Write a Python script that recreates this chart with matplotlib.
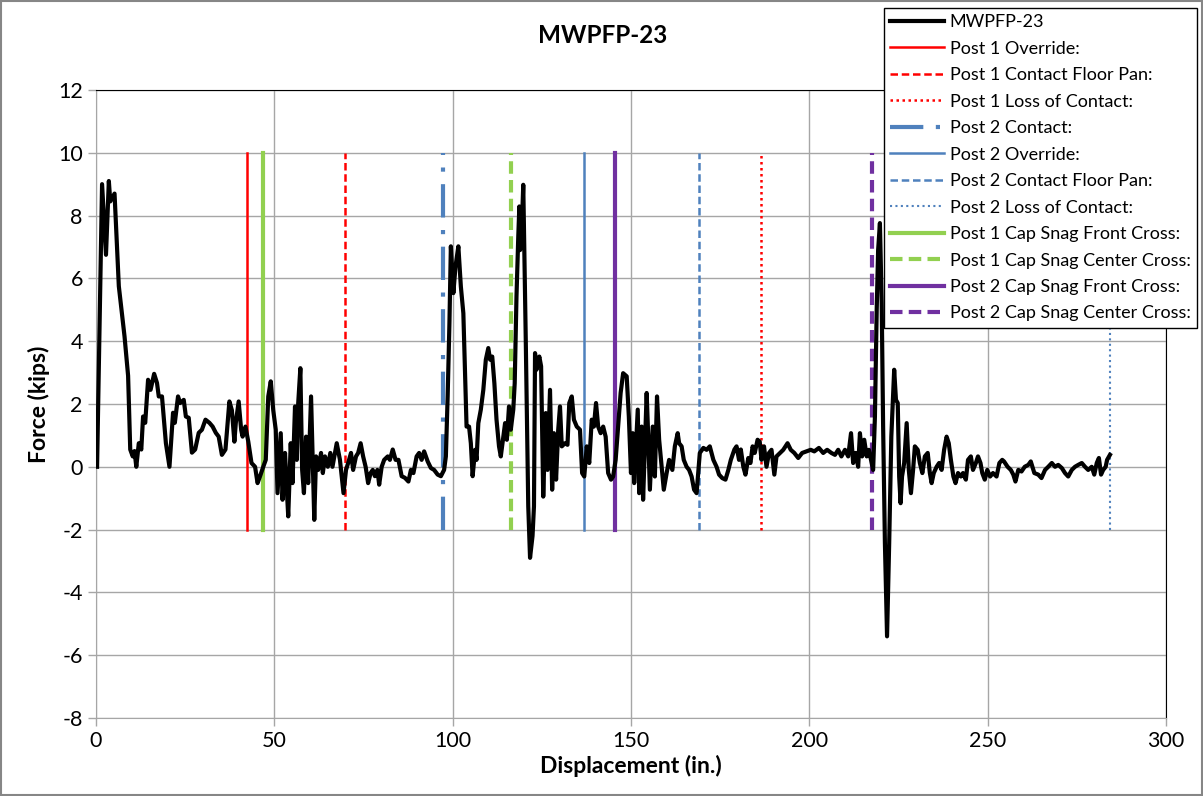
import matplotlib
matplotlib.use("Agg")
import matplotlib.pyplot as plt
from matplotlib.patches import Rectangle

plt.rcParams['font.family'] = ['Lato', 'DejaVu Sans']
plt.rcParams['axes.unicode_minus'] = False

# force vs displacement trace
disp = [0.3, 1.7, 2.8, 3.6, 4.0, 5.2, 6.4, 7.8, 8.0, 8.6, 9.0, 9.6, 10.3, 10.8, 11.3,
        12.0, 12.7, 13.2, 13.8, 14.6, 15.3, 16.3, 17.1, 17.6, 18.5, 19.6, 20.6, 21.6,
        22.1, 23.0, 23.6, 24.6, 25.2, 26.0, 26.9, 27.8, 28.8, 29.7, 30.7, 31.8, 32.7,
        33.6, 34.4, 35.3, 36.3, 37.4, 38.1, 38.8, 39.2, 40.0, 40.7, 41.1, 41.9,
        42.7, 43.6, 44.6, 45.3, 46.0, 46.9, 47.6, 48.3, 49.0, 49.7, 50.4, 50.9, 51.8,
        52.3, 53.0, 53.5, 53.9, 54.6, 55.1, 55.8, 56.3, 56.7, 57.3, 57.8, 58.3, 58.9,
        59.5, 60.3, 60.7, 61.2, 61.7, 62.3, 63.1, 63.6, 64.2, 65.0, 65.7, 66.3, 67.5,
        68.4, 69.4, 70.1, 70.7, 71.5, 72.1, 72.9, 73.5, 74.2, 74.9, 75.6, 76.3, 77.0,
        77.6, 78.2, 78.9, 79.4, 80.1, 80.8, 81.8, 82.4, 83.2, 84.0, 84.8, 85.7, 86.6,
        87.6, 88.3, 89.0, 89.9, 90.6, 91.3, 92.0, 93.0, 93.9, 94.8, 95.8, 96.7, 97.6,
        98.1, 98.6, 99.1, 99.5, 100.2, 100.8, 101.6, 102.3, 103.0, 103.4, 103.9, 104.6,
        105.1, 105.6, 106.3, 106.7, 107.2, 107.9, 108.6, 109.3, 110.0, 110.5, 111.1,
        111.7, 112.3, 113.0, 113.5, 114.2, 114.7, 115.2, 115.8, 116.3, 117.0, 117.4,
        117.9, 118.4, 118.7, 118.9, 119.3, 119.8, 120.5, 121.2, 121.7, 122.4, 122.8,
        123.1, 123.5, 124.3, 124.8, 125.4, 126.1, 126.6, 127.3, 127.9, 128.4, 129.0,
        129.6, 130.1, 130.6, 131.5, 132.2, 132.7, 133.4, 134.0, 134.8, 135.7, 136.3,
        136.9, 137.6, 138.3, 139.0, 139.6, 140.2, 140.8, 141.5, 142.2, 142.9, 143.6,
        144.4, 145.0, 145.7, 146.4, 147.1, 147.8, 148.8, 149.4, 150.0, 150.5, 150.9,
        151.4, 151.9, 152.3, 153.0, 153.4, 154.1, 154.4, 154.8, 155.3, 156.1, 156.7,
        157.3, 157.9, 158.6, 159.2, 160.0, 160.7, 161.6, 162.3, 163.1, 163.5, 164.2,
        164.8, 165.6, 166.3, 167.0, 167.7, 168.4, 169.3, 170.3, 171.2, 172.1, 173.1,
        174.0, 174.7, 175.6, 176.5, 177.3, 178.0, 179.0, 179.6, 180.3, 180.8, 181.5,
        182.1, 182.9, 183.5, 184.1, 184.7, 185.5, 186.1, 186.6, 187.3, 188.0, 188.7,
        189.4, 190.2, 190.8, 191.8, 192.7, 193.9, 194.8, 195.8, 196.9, 198.0, 199.2,
        200.4, 201.4, 202.7, 203.9, 205.0, 206.2, 207.2, 208.1, 209.0, 210.0, 210.9,
        211.7, 212.3, 213.0, 213.7, 214.2, 214.8, 215.4, 216.1, 216.7, 217.5, 217.9,
        218.4, 218.9, 219.3, 219.8, 220.3, 220.7, 221.2, 221.8, 222.4, 223.0, 223.8,
        224.3, 224.8, 225.2, 225.6, 226.0, 226.6, 227.3, 227.9, 228.5, 229.1, 229.6,
        230.4, 231.0, 231.7, 232.4, 233.2, 233.8, 234.3, 234.9, 235.7, 236.4, 237.1,
        237.8, 238.5, 239.1, 239.7, 240.4, 241.0, 241.7, 242.5, 243.1, 243.9, 244.5,
        245.3, 245.9, 246.7, 247.3, 248.0, 248.5, 249.2, 249.9, 250.7, 251.5, 252.5,
        253.3, 254.1, 254.6, 255.6, 256.5, 257.2, 257.8, 258.6, 259.5, 260.4, 261.4,
        262.1, 263.1, 264.2, 265.1, 266.1, 267.0, 268.0, 268.9, 269.8, 270.8, 271.7,
        272.6, 273.6, 274.5, 275.4, 276.4, 277.3, 278.2, 279.2, 279.9, 280.6, 281.2,
        281.8, 282.4, 283.1, 283.5, 284.3]
force = [0.0, 9.0, 6.75, 9.1, 8.45, 8.7, 5.75, 4.35, 4.15, 3.4, 2.9, 0.55, 0.33, 0.5, 0.0,
         0.75, 0.55, 1.6, 1.4, 2.77, 2.45, 2.96, 2.67, 2.24, 2.24, 0.75, 0.0, 1.72,
         1.4, 2.24, 2.03, 2.13, 1.6, 1.56, 0.45, 0.55, 1.08, 1.18, 1.5, 1.4, 1.28,
         1.08, 0.96, 0.38, 0.55, 2.08, 1.8, 0.8, 1.4, 2.08, 1.18, 0.96, 1.28,
         0.8, 0.12, 0.0, -0.52, -0.3, 0.0, 0.22, 2.24, 2.72, 1.8, 1.18, -0.84, 1.07,
         -1.05, 0.44, -0.73, -1.58, 0.75, -0.52, 1.92, 0.22, 2.03, 3.14, -0.1, -0.84, 0.96,
         -0.52, 2.24, 0.44, -1.69, 0.33, -0.1, 0.44, -0.2, 0.33, 0.0, 0.44, 0.0, 0.75,
         0.22, -0.84, -0.1, 0.12, 0.44, -0.1, 0.33, 0.44, 0.75, 0.33, 0.0, -0.52, -0.2,
         -0.1, -0.3, -0.1, -0.57, 0.0, 0.22, 0.33, 0.22, 0.55, 0.22, 0.22, -0.3, -0.35,
         -0.47, -0.1, -0.2, 0.33, 0.44, 0.22, 0.49, 0.17, -0.04, -0.1, -0.25, -0.3, -0.1,
         0.33, 2.24, 4.58, 7.02, 5.53, 6.38, 7.02, 5.74, 4.89, 3.3, 1.28, 1.28,
         0.75, -0.3, 0.54, 0.22, 1.39, 1.82, 2.45, 3.41, 3.78, 3.41, 3.51,
         2.66, 1.5, 0.65, 0.33, 0.96, 1.39, 0.86, 1.92, 1.18, 1.82, 2.66,
         5.42, 7.33, 8.29, 6.9, 7.33, 8.98, 4.04, -1.26, -2.9, -2.2, -1.26,
         3.62, 3.09, 3.51, 3.2, -0.95, 1.71, -0.1, 2.45, -0.73, 1.07, -0.41,
         1.18, 1.92, 0.65, 0.75, 0.7, 2.03, 2.24, 1.5, 1.28, 1.18, -0.2,
         -0.31, 0.65, 0.12, 1.5, 1.28, 2.03, 1.28, 1.07, 1.28, 0.96, -0.2,
         -0.41, -0.31, 0.22, 1.28, 2.35, 2.98, 2.88, 1.6, -0.2, 1.07, -0.52,
         0.65, 1.82, -0.84, 1.28, -1.05, 1.39, 2.35, 1.07, -0.73, 1.28, -0.31,
         2.24, 0.86, 0.0, -0.73, -0.2, 0.22, -0.1, 0.65, 1.07, 0.75, 0.65,
         0.22, 0.0, -0.1, -0.31, -0.73, -0.84, 0.44, 0.6, 0.54, 0.65, 0.22,
         0.0, -0.25, -0.36, -0.41, -0.1, 0.22, 0.55, 0.65, 0.22, 0.55, 0.0,
         -0.25, 0.28, 0.12, 0.65, 0.44, 0.86, 0.8, 0.22, 0.65, 0.0, 0.44,
         0.54, -0.25, 0.33, 0.44, 0.54, 0.75, 0.54, 0.44, 0.28, 0.44, 0.49,
         0.54, 0.49, 0.6, 0.44, 0.54, 0.44, 0.38, 0.54, 0.33, 0.54, 0.33,
         1.07, 0.12, 0.44, 0.0, 1.07, 0.33, 0.86, 0.33, 0.54, 0.12, -0.1,
         1.6, 5.0, 6.9, 7.76, 5.21, 1.28, -2.43, -5.4, -2.43, 0.96, 3.09,
         2.13, 2.03, -0.31, -1.16, -0.31, 0.12, 1.39, -0.1, -0.84, -0.1, 0.65,
         0.54, 0.12, -0.2, 0.33, 0.44, -0.2, -0.52, -0.2, 0.0, 0.12, -0.1,
         0.54, 0.96, 0.75, 0.22, -0.31, -0.52, -0.2, -0.31, -0.2, -0.41, 0.22,
         0.33, -0.1, 0.12, 0.33, 0.12, -0.2, -0.41, -0.1, -0.31, -0.2, -0.31,
         0.12, 0.22, 0.17, 0.0, -0.1, -0.25, -0.47, -0.1, -0.15, 0.0, 0.06,
         0.17, -0.2, -0.25, -0.36, -0.1, 0.0, 0.12, 0.0, 0.06, -0.04, -0.2,
         -0.31, -0.1, 0.0, 0.06, 0.12, 0.0, -0.1, 0.0, -0.25, 0.12, 0.28,
         -0.25, -0.1, 0.0, 0.22, 0.38]

# event markers (displacement, in.)
event_labels = ["Post 1 Override:", "Post 1 Contact Floor Pan:", "Post 1 Loss of Contact:",
                "Post 2 Contact:", "Post 2 Override:", "Post 2 Contact Floor Pan:",
                "Post 2 Loss of Contact:", "Post 1 Cap Snag Front Cross:",
                "Post 1 Cap Snag Center Cross:", "Post 2 Cap Snag Front Cross:",
                "Post 2 Cap Snag Center Cross:"]
event_x = [42.3, 69.8, 186.4, 97.3, 136.8, 169.0, 284.3, 46.8, 116.3, 145.5, 217.5]
event_span = [-2, 10]

red, blue, green, purple = "#FF0000", "#4F81BD", "#92D050", "#7030A0"
styles = [
    dict(color=red, lw=1.8, ls="-"),
    dict(color=red, lw=1.8, ls=(0, (3, 1.5))),
    dict(color=red, lw=1.8, ls=(0, (1, 1.4))),
    dict(color=blue, lw=3.0, ls=(0, (8, 3, 1, 3))),
    dict(color=blue, lw=1.8, ls="-"),
    dict(color=blue, lw=1.8, ls=(0, (3, 1.5))),
    dict(color=blue, lw=1.5, ls=(0, (1, 1.6))),
    dict(color=green, lw=3.0, ls="-"),
    dict(color=green, lw=3.0, ls=(0, (3, 1.5))),
    dict(color=purple, lw=3.0, ls="-"),
    dict(color=purple, lw=3.0, ls=(0, (3, 1.5))),
]

fig = plt.figure(figsize=(12.03, 7.96), dpi=100)
ax = fig.add_axes([0.0798, 0.098, 0.8894, 0.789])

ax.plot(disp, force, color="black", lw=3.0, label="MWPFP-23", zorder=5)
for lab, xv, st in zip(event_labels, event_x, styles):
    ax.plot([xv, xv], event_span, label=lab, zorder=4, **st)

ax.set_xlim(0, 300)
ax.set_ylim(-8, 12)
ax.set_xticks(range(0, 301, 50))
ax.set_yticks(range(-8, 13, 2))
ax.grid(True, color="#A6A6A6", lw=1.0)
ax.set_axisbelow(True)
ax.tick_params(labelsize=15.5, length=6, color="#A6A6A6", width=1)
for s in ["left", "bottom"]:
    ax.spines[s].set_color("#A6A6A6")
for s in ["top", "right"]:
    ax.spines[s].set_color("black")

ax.set_xlabel("Displacement (in.)", fontsize=16.5, fontweight="bold", labelpad=3)
ax.set_ylabel("Force (kips)", fontsize=16.5, fontweight="bold", labelpad=6)
fig.text(0.501, 0.955, "MWPFP-23", fontsize=17.5, fontweight="bold", ha="center", va="center")

leg = ax.legend(loc="upper right", bbox_to_anchor=(0.995, 0.99), bbox_transform=fig.transFigure,
                fontsize=13, frameon=True, fancybox=False, framealpha=1, edgecolor="black",
                handlelength=3.0, labelspacing=0.58, borderpad=0.35, handletextpad=0.3,
                borderaxespad=0)
leg.get_frame().set_linewidth(1.0)
leg.set_zorder(10)

fig.patches.append(Rectangle((0.001, 0.001), 0.998, 0.998, transform=fig.transFigure,
                             fill=False, edgecolor="#868686", lw=1.5))

fig.savefig("out.png", dpi=100)
